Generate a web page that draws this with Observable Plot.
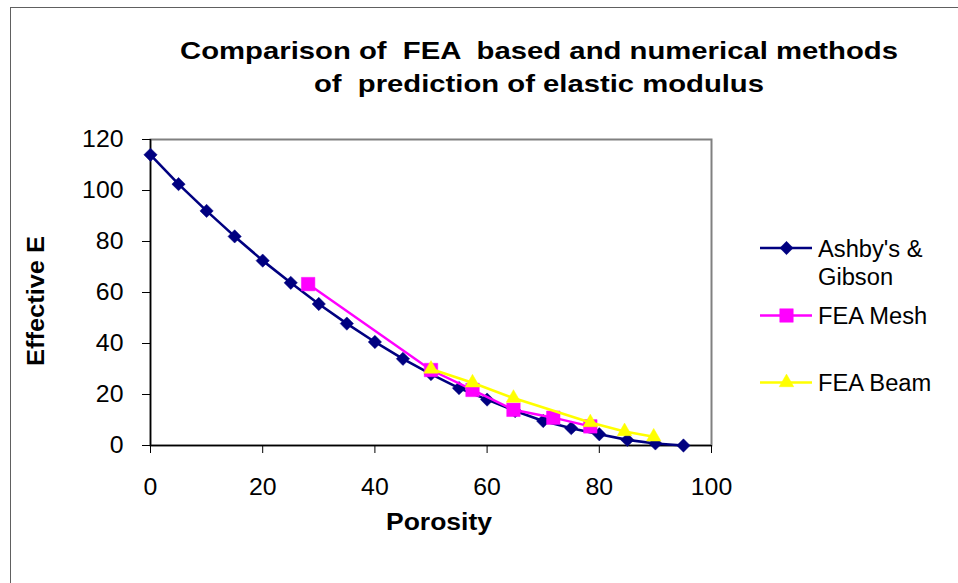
<!DOCTYPE html>
<html><head><meta charset="utf-8">
<script src="https://cdn.jsdelivr.net/npm/d3@7"></script>
<script src="https://cdn.jsdelivr.net/npm/@observablehq/plot@0.6"></script>
<style>body{margin:0;background:#fff;} svg{display:block;}</style>
</head><body><div id="chart"></div>
<script>
const titleLines = ["Comparison of  FEA  based and numerical methods", "of  prediction of elastic modulus"];
const xLabel = "Porosity";
const yLabel = "Effective E";
const xTicks = [0, 20, 40, 60, 80, 100];
const yTicks = [0, 20, 40, 60, 80, 100, 120];
const seriesNames = ["Ashby's & Gibson", "FEA Mesh", "FEA Beam"];

const ashbyPorosity = [0, 5, 10, 15, 20, 25, 30, 35, 40, 45, 50, 55, 60, 65, 70, 75, 80, 85, 90, 95];
const ashbyE = [114, 102.5, 92, 82, 72.5, 63.8, 55.5, 47.8, 40.6, 34, 28, 22.5, 18, 13.5, 9.6, 6.8, 4.4, 2.2, 0.8, 0];
const meshPorosity = [28.1, 50, 57.4, 64.7, 71.8, 78.4];
const meshE = [63.3, 29.6, 21.8, 14, 10.9, 7.5];
const beamPorosity = [50, 57.4, 64.7, 78.4, 84.5, 89.7];
const beamE = [30, 24.6, 18.6, 9, 5.5, 3.4];

const ashby = ashbyPorosity.map((x, i) => ({x, y: ashbyE[i]}));
const mesh = meshPorosity.map((x, i) => ({x, y: meshE[i]}));
const beam = beamPorosity.map((x, i) => ({x, y: beamE[i]}));

const NAVY = "#000080", MAG = "#ff00ff", YEL = "#ffff00";
const FONT = "Liberation Sans, Arial, sans-serif";
const STRETCH = 1.08;

const chart = Plot.plot({
  width: 958, height: 583,
  marginLeft: 150, marginRight: 247, marginTop: 139, marginBottom: 138,
  style: {fontFamily: FONT, background: "white", overflow: "visible"},
  x: {domain: [0, 100]},
  y: {domain: [0, 120]},
  marks: [
    Plot.frame({stroke: "#808080", strokeWidth: 2}),
    Plot.ruleX([0], {stroke: "black", strokeWidth: 1.5}),
    Plot.ruleY([0], {stroke: "black", strokeWidth: 1.5}),
    Plot.axisX(xTicks, {tickSize: 8, tickPadding: 25, fontSize: 23, fill: "black", stroke: "black", label: null}),
    Plot.axisY(yTicks, {tickSize: 8, tickPadding: 19, fontSize: 23, fill: "black", stroke: "black", label: null}),
    Plot.line(ashby, {x: "x", y: "y", stroke: NAVY, strokeWidth: 2.6}),
    Plot.dot(ashby, {x: "x", y: "y", symbol: "diamond2", r: 6, fill: NAVY, stroke: NAVY, strokeWidth: 0.5}),
    Plot.line(mesh, {x: "x", y: "y", stroke: MAG, strokeWidth: 2.4}),
    Plot.dot(mesh, {x: "x", y: "y", symbol: "square", r: 7.6, fill: MAG, stroke: MAG, strokeWidth: 0.5}),
    Plot.line(beam, {x: "x", y: "y", stroke: YEL, strokeWidth: 2.6}),
    Plot.dot(beam, {x: "x", y: "y", symbol: "triangle", r: 5.4, fill: YEL, stroke: YEL, strokeWidth: 0.5})
  ]
});

document.getElementById("chart").appendChild(chart);
const svg = d3.select(chart);

// widen tick labels slightly (reference glyphs are horizontally stretched)
svg.selectAll("text").each(function() {
  const w = this.getComputedTextLength();
  if (w > 0) d3.select(this).attr("textLength", w * STRETCH).attr("lengthAdjust", "spacingAndGlyphs");
});

// outer border
svg.insert("rect", ":first-child").attr("x", 10.5).attr("y", 7.5).attr("width", 1200).attr("height", 1200)
  .attr("fill", "none").attr("stroke", "#606060").attr("stroke-width", 1);

// title
const tl = [{t: titleLines[0], y: 59, w: 718}, {t: titleLines[1], y: 92, w: 450}];
tl.forEach(d => {
  svg.append("text").attr("x", 539).attr("y", d.y).attr("text-anchor", "middle")
    .attr("font-family", FONT).attr("font-weight", "bold").attr("font-size", 24)
    .attr("textLength", d.w).attr("lengthAdjust", "spacingAndGlyphs")
    .style("white-space", "pre").attr("xml:space", "preserve").text(d.t);
});

// axis labels
svg.append("text").attr("x", 439).attr("y", 530).attr("text-anchor", "middle")
  .attr("font-family", FONT).attr("font-weight", "bold").attr("font-size", 23)
  .attr("textLength", 106).attr("lengthAdjust", "spacingAndGlyphs").text(xLabel);
svg.append("text").attr("transform", "translate(44,301) rotate(-90)").attr("text-anchor", "middle")
  .attr("font-family", FONT).attr("font-weight", "bold").attr("font-size", 23)
  .attr("textLength", 130).attr("lengthAdjust", "spacingAndGlyphs").text(yLabel);

// legend
const legend = [
  {lines: ["Ashby's &", "Gibson"], y: 248, color: NAVY, symbol: d3.symbolDiamond2, size: Math.PI * 36},
  {lines: ["FEA Mesh"], y: 315.5, color: MAG, symbol: d3.symbolSquare, size: Math.PI * 7.6 * 7.6},
  {lines: ["FEA Beam"], y: 382.5, color: YEL, symbol: d3.symbolTriangle, size: Math.PI * 5.4 * 5.4}
];
legend.forEach(d => {
  const g = svg.append("g");
  g.append("line").attr("x1", 760).attr("x2", 812).attr("y1", d.y).attr("y2", d.y)
    .attr("stroke", d.color).attr("stroke-width", 2.6);
  g.append("path").attr("d", d3.symbol(d.symbol, d.size)()).attr("transform", `translate(786.5,${d.y})`)
    .attr("fill", d.color).attr("stroke", d.color).attr("stroke-width", 0.5);
  d.lines.forEach((t, i) => {
    const tx = g.append("text").attr("x", 818).attr("y", d.y + 8.5 + i * 28.5).attr("font-family", FONT)
      .attr("text-anchor", "start").attr("font-size", 23).attr("fill", "black").text(t);
    const w = tx.node().getComputedTextLength();
    if (w > 0) tx.attr("textLength", w * 1.03).attr("lengthAdjust", "spacingAndGlyphs");
  });
});
</script>
</body></html>
